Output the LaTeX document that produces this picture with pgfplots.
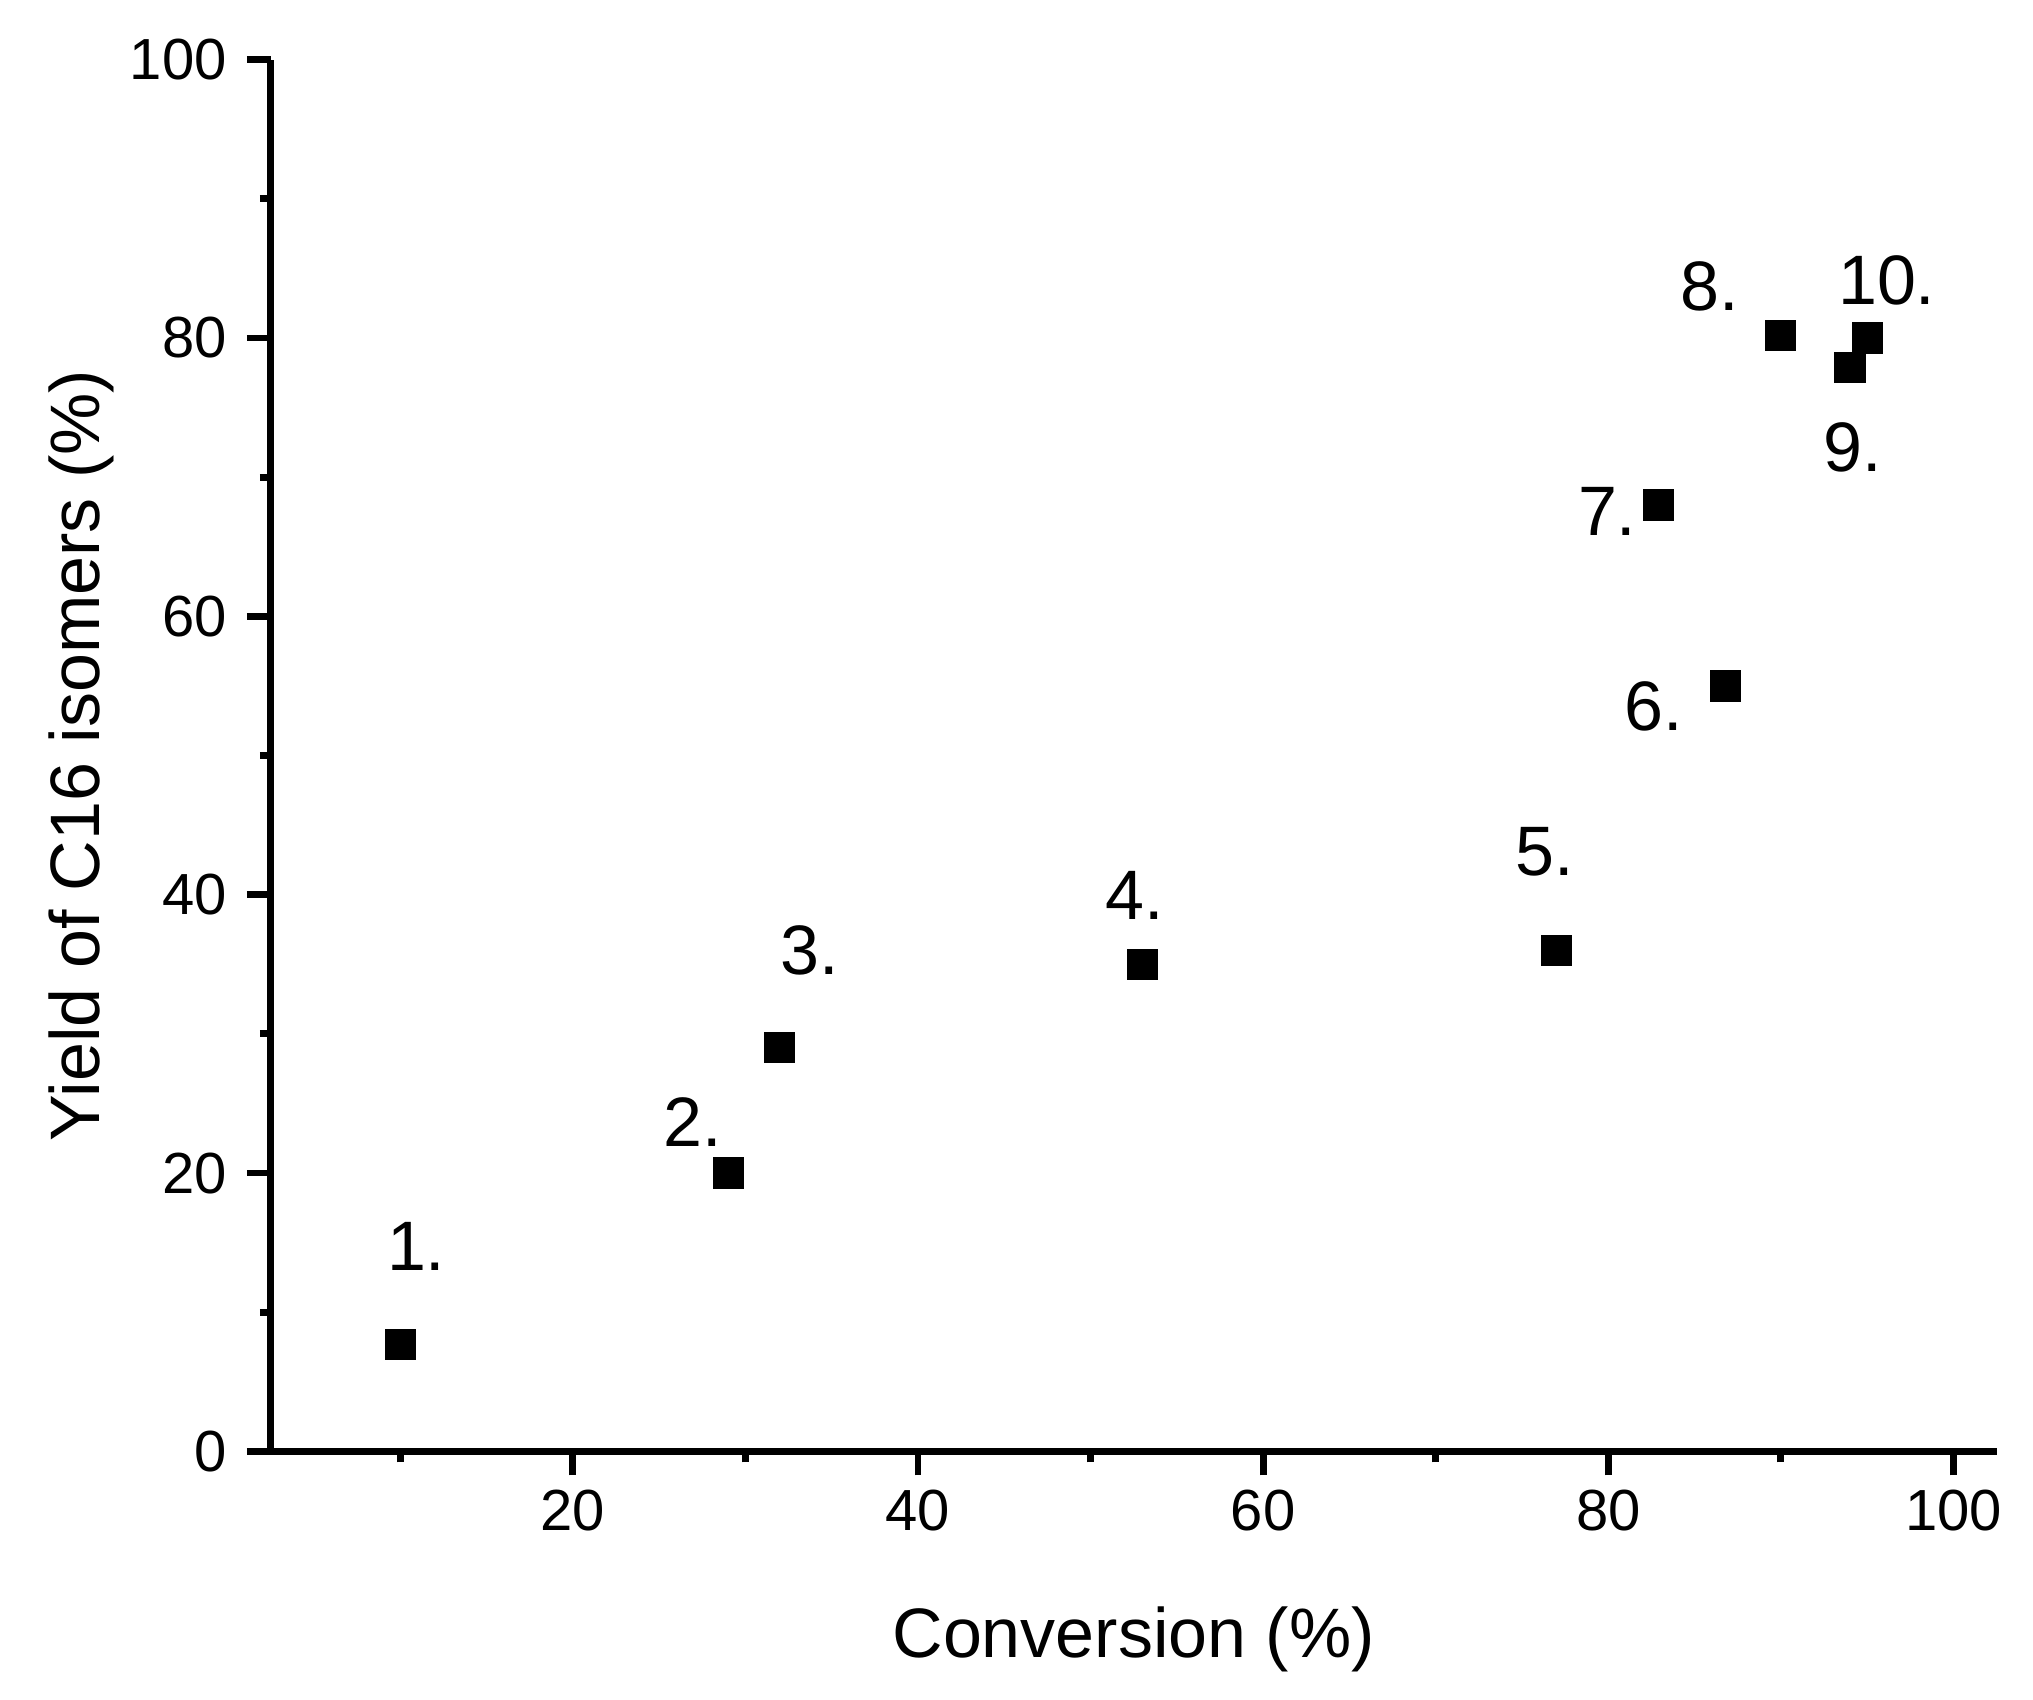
\documentclass[border=0pt]{standalone}
\usepackage{fontspec}
\setmainfont{Liberation Sans}
\usepackage{pgfplots}
\pgfplotsset{compat=1.18}
\begin{document}
\begin{tikzpicture}
\begin{axis}[
  scale only axis,
  width=431.5pt, height=348pt,
  xmin=2.5, xmax=102.5, ymin=0, ymax=100,
  axis lines=left,
  axis line style={-, line width=1.7pt},
  xtick={20,40,60,80,100},
  minor xtick={10,30,50,70,90},
  ytick={0,20,40,60,80,100},
  minor ytick={10,30,50,70,90},
  tick align=outside,
  major tick length=6pt,
  minor tick length=2.75pt,
  tick style={black, line width=1.7pt},
  tick label style={font=\fontsize{14.5}{17}\selectfont},
  yticklabel style={xshift=-1.5pt},
  /pgf/number format/assume math mode=true,
  xlabel={Conversion (\%)},
  ylabel={Yield of C16 isomers (\%)},
  every axis x label/.style={at={(axis description cs:0.5,-0.148)}, anchor=base, font=\fontsize{17.5}{21}\selectfont},
  every axis y label/.style={at={(axis description cs:-0.099,0.5)}, anchor=base, rotate=90, font=\fontsize{17.5}{21}\selectfont},
  clip=false,
]
\addplot[only marks, mark=square*, mark size=3.7pt, mark options={fill=black, draw=black, line width=0.4pt}] coordinates {
(10,7.7) (29,20) (32,29) (53,35) (77,36) (86.8,55) (82.9,68) (90,80.2) (94,77.9) (95,80)
};
\begin{scope}[every node/.style={anchor=base west, inner sep=0pt, font=\fontsize{17.5}{21}\selectfont}]
\node at (axis cs:9.19,12.98) {1.};
\node at (axis cs:25.2,21.9) {2.};
\node at (axis cs:32.0,34.3) {3.};
\node at (axis cs:50.8,38.2) {4.};
\node at (axis cs:74.6,41.4) {5.};
\node at (axis cs:80.9,51.8) {6.};
\node at (axis cs:78.2,65.8) {7.};
\node at (axis cs:84.12,81.95) {8.};
\node at (axis cs:92.44,70.39) {9.};
\node at (axis cs:93.27,82.38) {10.};
\end{scope}
\end{axis}
\path[use as bounding box] ([xshift=-67.7pt,yshift=-62.1pt]current axis.south west) rectangle ([xshift=9.1pt,yshift=14.9pt]current axis.north east);
\end{tikzpicture}
\end{document}
